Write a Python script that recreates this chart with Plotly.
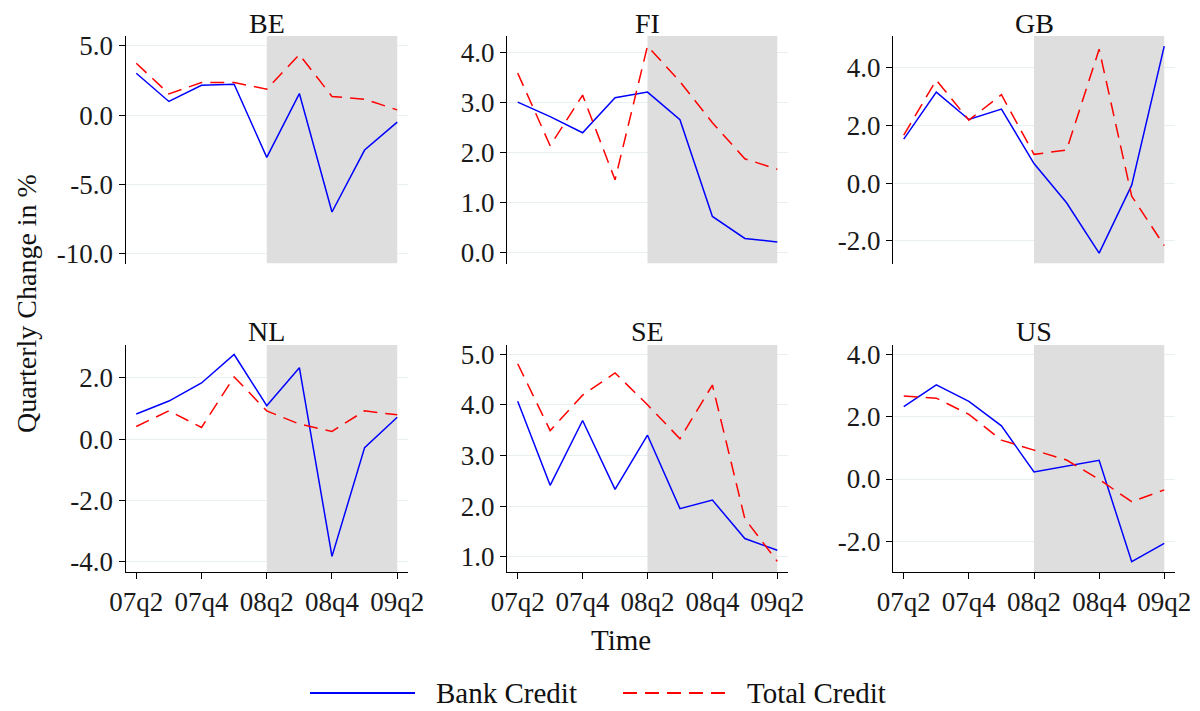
import plotly.graph_objects as go

quarters = ["07q2", "07q3", "07q4", "08q1", "08q2", "08q3", "08q4", "09q1", "09q2"]
tick_quarters = ["07q2", "07q4", "08q2", "08q4", "09q2"]
shade_start = "08q2"
shade_end = "09q2"

countries = ["BE", "FI", "GB", "NL", "SE", "US"]

bank_credit = {
    "BE": [3.03, 0.99, 2.16, 2.24, -3.05, 1.56, -7.00, -2.52, -0.50],
    "FI": [3.01, 2.72, 2.40, 3.10, 3.21, 2.66, 0.73, 0.29, 0.22],
    "GB": [1.53, 3.16, 2.21, 2.57, 0.68, -0.68, -2.43, -0.07, 4.76],
    "NL": [0.82, 1.24, 1.83, 2.76, 1.09, 2.33, -3.83, -0.28, 0.71],
    "SE": [4.07, 2.41, 3.69, 2.33, 3.40, 1.95, 2.12, 1.36, 1.13],
    "US": [2.33, 3.03, 2.50, 1.71, 0.23, 0.42, 0.60, -2.66, -2.07],
}
total_credit = {
    "BE": [3.75, 1.54, 2.36, 2.36, 1.88, 4.38, 1.35, 1.15, 0.38],
    "FI": [3.59, 2.14, 3.15, 1.46, 4.13, 3.42, 2.60, 1.88, 1.67],
    "GB": [1.67, 3.58, 2.19, 3.07, 1.00, 1.15, 4.65, -0.45, -2.17],
    "NL": [0.41, 0.92, 0.38, 2.03, 0.92, 0.49, 0.25, 0.92, 0.79],
    "SE": [4.81, 3.49, 4.19, 4.63, 4.00, 3.33, 4.39, 1.75, 0.91],
    "US": [2.67, 2.60, 2.08, 1.25, 0.93, 0.61, -0.01, -0.73, -0.35],
}
y_ticks = {
    "BE": [-10, -5, 0, 5],
    "FI": [0, 1, 2, 3, 4],
    "GB": [-2, 0, 2, 4],
    "NL": [-4, -2, 0, 2],
    "SE": [1, 2, 3, 4, 5],
    "US": [-2, 0, 2, 4],
}
y_ranges = {
    "BE": [-10.72, 5.72],
    "FI": [-0.21, 4.33],
    "GB": [-2.79, 5.11],
    "NL": [-4.34, 3.07],
    "SE": [0.70, 5.18],
    "US": [-2.99, 4.31],
}

# The page body has an 8px margin; the figure is sized and positioned to compensate.
OFF = 8
W, H = 1200 - OFF, 711 - OFF
FONT = "Liberation Serif"
FS_TICK = 27
FS_TEXT = 29
FS_TITLE = 28
BLUE = "#0000ff"
RED = "#ff0000"
SHADE = "#dedede"
GRID = "#e8f0f0"
DASH = "14px,8px"

col_px = [(125.5, 408), (507, 788), (893, 1175)]
row_px = [(36, 263.5), (345, 572)]


def px_x(v):
    return (v - OFF) / W


def px_y(v):
    return 1 - (v - OFF) / H


xi = list(range(len(quarters)))
tickvals_x = [quarters.index(q) for q in tick_quarters]

fig = go.Figure()
annotations = []
shapes = []

for k, c in enumerate(countries):
    r, col = divmod(k, 3)
    n = k + 1
    xa = "x" if n == 1 else f"x{n}"
    ya = "y" if n == 1 else f"y{n}"
    fig.add_trace(go.Scatter(x=xi, y=bank_credit[c], mode="lines", xaxis=xa, yaxis=ya,
                             line=dict(color=BLUE, width=1.5), showlegend=False,
                             name="Bank Credit"))
    fig.add_trace(go.Scatter(x=xi, y=total_credit[c], mode="lines", xaxis=xa, yaxis=ya,
                             line=dict(color=RED, width=1.5, dash=DASH), showlegend=False,
                             name="Total Credit"))
    x0, x1 = col_px[col]
    y0, y1 = row_px[r]
    bottom = r == 1
    fig.layout[f"xaxis{'' if n == 1 else n}"] = dict(
        domain=[px_x(x0), px_x(x1)], anchor=ya, range=[-0.33, 8.33],
        showgrid=False, zeroline=False, automargin=False,
        showline=bottom, linecolor="#000", linewidth=1,
        ticks="outside" if bottom else "", ticklen=6, tickcolor="#000",
        showticklabels=bottom, tickvals=tickvals_x, ticktext=tick_quarters,
        tickfont=dict(family=FONT, size=FS_TICK, color="#1a1a1a"),
    )
    fig.layout[f"yaxis{'' if n == 1 else n}"] = dict(
        domain=[px_y(y1), px_y(y0)], anchor=xa, range=y_ranges[c],
        showgrid=True, gridcolor=GRID, gridwidth=1, zeroline=False, automargin=False,
        showline=True, linecolor="#000", linewidth=1,
        ticks="outside", ticklen=6, tickcolor="#000",
        tickvals=y_ticks[c], ticktext=[f"{v:.1f}" for v in y_ticks[c]],
        tickfont=dict(family=FONT, size=FS_TICK, color="#1a1a1a"),
    )
    shapes.append(dict(type="rect", xref=xa, yref=ya,
                       x0=quarters.index(shade_start), x1=quarters.index(shade_end),
                       y0=y_ranges[c][0], y1=y_ranges[c][1],
                       fillcolor=SHADE, line=dict(width=0), layer="between"))
    annotations.append(dict(text=c, xref="paper", yref="paper",
                            x=px_x((x0 + x1) / 2), y=px_y(y0 - 13),
                            showarrow=False, font=dict(family=FONT, size=FS_TITLE, color="#111"),
                            xanchor="center", yanchor="middle"))

annotations.append(dict(text="Quarterly Change in %", xref="paper", yref="paper",
                        x=px_x(26), y=px_y(304), textangle=-90, showarrow=False,
                        font=dict(family=FONT, size=FS_TITLE, color="#111"),
                        xanchor="center", yanchor="middle"))
annotations.append(dict(text="Time", xref="paper", yref="paper",
                        x=px_x(621), y=px_y(640), showarrow=False,
                        font=dict(family=FONT, size=FS_TEXT, color="#111"),
                        xanchor="center", yanchor="middle"))

# manual legend
legend_items = [("Bank Credit", BLUE, "solid", 310, 415, 434),
                ("Total Credit", RED, DASH, 623, 728, 745)]
for label, color, dash, lx0, lx1, tx in legend_items:
    shapes.append(dict(type="line", xref="paper", yref="paper",
                       x0=px_x(lx0), x1=px_x(lx1), y0=px_y(693), y1=px_y(693),
                       line=dict(color=color, width=2, dash=dash), layer="above"))
    annotations.append(dict(text=label, xref="paper", yref="paper",
                            x=px_x(tx), y=px_y(693), showarrow=False,
                            font=dict(family=FONT, size=FS_TEXT, color="#111"),
                            xanchor="left", yanchor="middle"))

fig.update_layout(width=W, height=H,
                  margin=dict(l=0, r=0, t=0, b=0, pad=0, autoexpand=False),
                  paper_bgcolor="white", plot_bgcolor="white",
                  shapes=shapes, annotations=annotations, showlegend=False)

fig.write_html("out.html")
